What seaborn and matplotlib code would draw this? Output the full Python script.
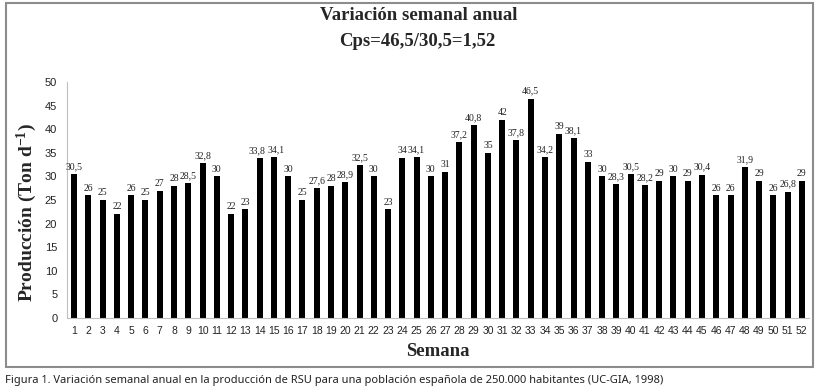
import matplotlib
matplotlib.use("Agg")
import matplotlib.pyplot as plt
import seaborn as sns
import pandas as pd
import numpy as np
from matplotlib.patches import Rectangle

weeks = [str(i) for i in range(1, 53)]
values = [30.5, 26, 25, 22, 26, 25, 27, 28, 28.5, 32.8,
          30, 22, 23, 33.8, 34.1, 30, 25, 27.6, 28, 28.9,
          32.5, 30, 23, 34, 34.1, 30, 31, 37.2, 40.8, 35,
          42, 37.8, 46.5, 34.2, 39, 38.1, 33, 30, 28.3, 30.5,
          28.2, 29, 30, 29, 30.4, 26, 26, 31.9, 29, 26,
          26.8, 29]
value_labels = [f"{v:g}".replace(".", ",") for v in values]
title_lines = ["Variación semanal anual", "Cps=46,5/30,5=1,52"]
xlabel = "Semana"
ylabel = "Producción (Ton d$\\mathregular{^{-1}}$)"
caption = ("Figura 1. Variación semanal anual en la producción de RSU para una "
           "población española de 250.000 habitantes (UC-GIA, 1998)")

sns.set_style("white")
df = pd.DataFrame({"Semana": weeks, "Produccion": values})

fig = plt.figure(figsize=(8.2, 3.92), dpi=100)
ax = fig.add_axes([67/820, 1-318/392, (809-67)/820, (318-82)/392])

sns.barplot(data=df, x="Semana", y="Produccion", order=weeks, color="black",
            width=0.42, saturation=1, ax=ax, edgecolor="black", linewidth=0)

ax.set_ylim(0, 50)
ax.set_xlim(-0.5, len(weeks) - 0.5)
ax.set_yticks(np.arange(0, 51, 5))
ax.tick_params(axis="y", labelsize=8, length=3, color="#bfbfbf", width=0.8,
               labelcolor="#222222", pad=4)
ax.tick_params(axis="x", labelsize=7.5, length=0, labelcolor="#222222", pad=6)
ax.set_xticks(np.arange(-0.5, len(weeks), 1), minor=True)
ax.tick_params(axis="x", which="minor", length=3, color="#bfbfbf", width=0.8)
for lbl in ax.get_xticklabels() + ax.get_yticklabels():
    lbl.set_fontfamily("Liberation Sans")

for s in ["top", "right"]:
    ax.spines[s].set_visible(False)
for s in ["left", "bottom"]:
    ax.spines[s].set_color("#bfbfbf")
    ax.spines[s].set_linewidth(0.8)

ax.set_xlabel("")
ax.set_ylabel("")
anns = ax.bar_label(ax.containers[0], labels=value_labels, padding=2,
                    fontsize=7, family="Liberation Serif", color="#222222")

# nudge adjacent labels apart where they would collide
fig.canvas.draw()
renderer = fig.canvas.get_renderer()
for i in range(len(anns) - 1):
    b1 = anns[i].get_window_extent(renderer)
    b2 = anns[i + 1].get_window_extent(renderer)
    if b1.overlaps(b2):
        gap = (b1.x1 - b2.x0) / 2 + 0.8
        x1, y1 = anns[i].xyann
        x2, y2 = anns[i + 1].xyann
        anns[i].xyann = (x1 - gap * 72 / fig.dpi, y1)
        anns[i + 1].xyann = (x2 + gap * 72 / fig.dpi, y2)

fig.text(419/820, 1-15/392, title_lines[0], ha="center", va="center",
         fontsize=13.5, fontweight="bold", family="Liberation Serif")
fig.text(417/820, 1-41/392, title_lines[1], ha="center", va="center",
         fontsize=13.5, fontweight="bold", family="Liberation Serif")
fig.text(438/820, 1-352/392, xlabel, ha="center", va="center",
         fontsize=13.5, fontweight="bold", family="Liberation Serif")
fig.text(27/820, 1-213/392, ylabel, ha="center", va="center", rotation=90,
         fontsize=14, fontweight="bold", family="Liberation Serif")
fig.text(5/820, 1-381/392, caption, ha="left", va="center",
         fontsize=8, family="Noto Sans", color="#222222")

fig.patches.append(Rectangle((6/820, 1-367/392), (813-6)/820, (367-3)/392,
                             transform=fig.transFigure, fill=False,
                             edgecolor="#8c8c8c", linewidth=1.5))

fig.savefig("out.png", dpi=100)
